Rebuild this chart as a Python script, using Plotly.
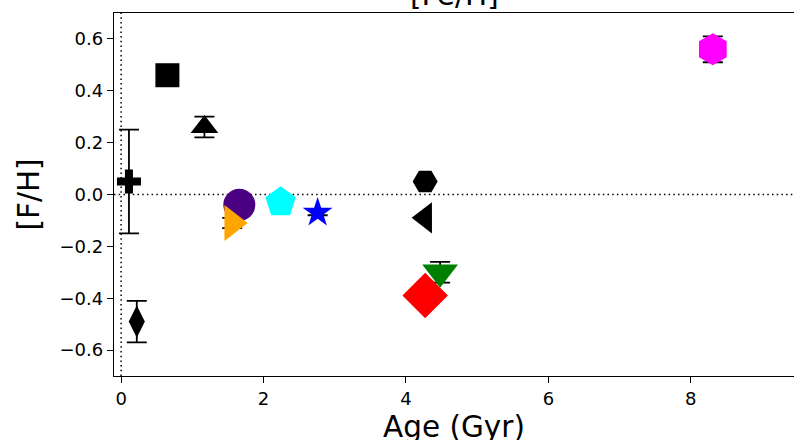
import plotly.graph_objects as go

# Age (Gyr), metallicity [F/H] and its uncertainty for each object
ages = [0.11, 0.22, 0.65, 1.17, 1.66, 1.56, 2.24, 2.76, 4.27, 4.27, 4.48, 4.27, 8.31]
feh = [0.05, -0.49, 0.46, 0.26, -0.04, -0.11, -0.03, -0.07, 0.05, -0.09, -0.30, -0.39, 0.56]
feh_err = [0.20, 0.08, 0.0, 0.04, 0.0, 0.02, 0.0, 0.01, 0.0, 0.0, 0.04, 0.0, 0.05]

# marker styling per object
symbols = ["cross", "diamond-tall", "square", "triangle-up", "circle", "triangle-right",
           "pentagon", "star", "hexagon2", "triangle-left", "triangle-down", "diamond", "hexagon"]
colors = ["black", "black", "black", "black", "#4B0082", "#FFA500",
          "#00FFFF", "#0000FF", "black", "black", "#008000", "#FF0000", "#FF00FF"]
sizes = [20, 23, 24, 24, 32, 31, 32, 22.5, 25, 27, 31, 35, 32]

x_range = [-0.1, 9.45]
y_range = [-0.7, 0.7]
x_ticks = [0, 2, 4, 6, 8]
y_ticks = [-0.6, -0.4, -0.2, 0.0, 0.2, 0.4, 0.6]

FONT = "DejaVu Sans"
LABEL_SIZE = 29.5

fig = go.Figure()

# error bars first so the markers sit on top of them
for a, f, e in zip(ages, feh, feh_err):
    if e > 0:
        fig.add_trace(go.Scatter(
            x=[a], y=[f], mode="markers",
            marker=dict(size=1, opacity=0),
            error_y=dict(type="data", array=[e], color="black", thickness=1.8, width=10),
            showlegend=False, hoverinfo="skip",
        ))

for a, f, sym, col, sz in zip(ages, feh, symbols, colors, sizes):
    fig.add_trace(go.Scatter(
        x=[a], y=[f], mode="markers",
        marker=dict(symbol=sym, color=col, size=sz, line=dict(width=0)),
        showlegend=False,
    ))

# reference lines at zero age and solar metallicity
fig.add_shape(type="line", xref="x", yref="paper", x0=0, x1=0, y0=0, y1=1,
              line=dict(color="black", width=1.5, dash="1.5px,3.2px"), layer="below")
fig.add_shape(type="line", xref="paper", yref="y", x0=0, x1=1, y0=0, y1=0,
              line=dict(color="black", width=1.5, dash="1.5px,3.2px"), layer="below")

axis_common = dict(showgrid=False, zeroline=False, showline=True, linecolor="black",
                   linewidth=1.3, ticks="outside", ticklen=6, tickwidth=1.3,
                   tickcolor="black", tickfont=dict(family=FONT, size=18, color="black"))

fig.update_xaxes(range=x_range, tickvals=x_ticks, mirror=True, **axis_common)
fig.update_yaxes(range=y_range, tickvals=y_ticks, tickformat=".1f", mirror=False, **axis_common)

fig.add_annotation(text="[Fe/H]", xref="paper", yref="paper", x=0.5, y=1.0,
                   yshift=-1, yanchor="bottom", showarrow=False,
                   font=dict(family=FONT, size=LABEL_SIZE, color="black"))
fig.add_annotation(text="Age (Gyr)", xref="paper", yref="paper", x=0.5, y=0,
                   yshift=-51, yanchor="middle", showarrow=False,
                   font=dict(family=FONT, size=LABEL_SIZE, color="black"))
fig.add_annotation(text="[F/H]", xref="paper", yref="paper", x=0, y=0.5,
                   xshift=-86, textangle=-90, xanchor="center", showarrow=False,
                   font=dict(family=FONT, size=LABEL_SIZE, color="black"))

fig.update_layout(
    width=794, height=440,
    margin=dict(l=114, r=0, t=13, b=64),
    paper_bgcolor="white", plot_bgcolor="white",
)

fig.write_html("out.html")
